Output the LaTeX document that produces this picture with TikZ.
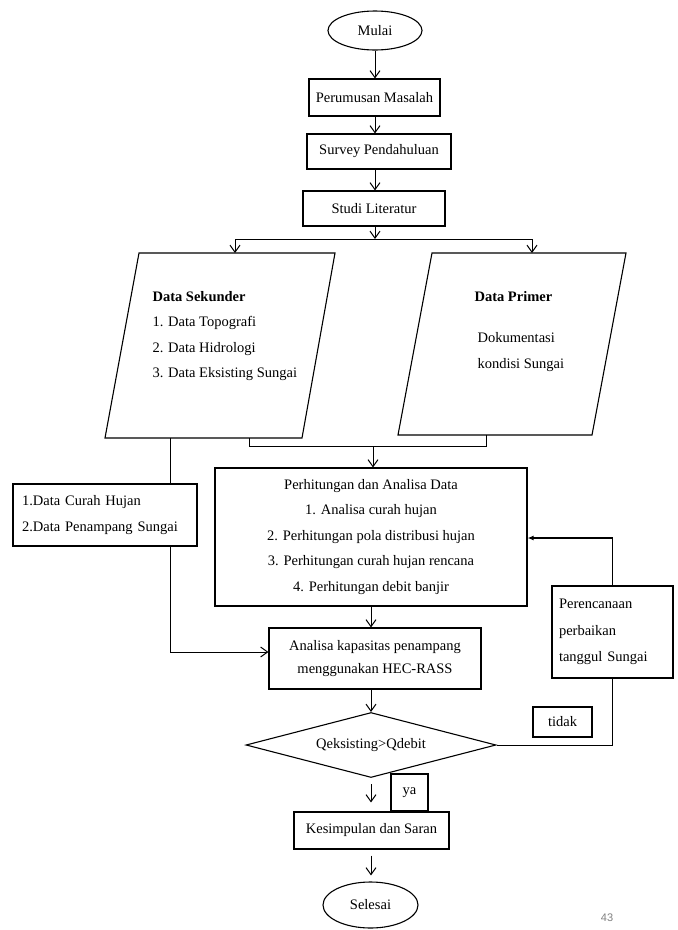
\documentclass[tikz,border=0pt]{standalone}
\usepackage{fontspec}
\setmainfont{Liberation Serif}
\setsansfont{Liberation Sans}
\usetikzlibrary{arrows.meta, positioning, calc, shapes.geometric}
\tikzset{
  box/.style 2 args={rectangle,draw=black,line width=1.1pt,minimum width=#1,
    minimum height=#2,inner sep=0pt,align=center},
  term/.style 2 args={ellipse,draw=black,line width=1.1pt,minimum width=#1,
    minimum height=#2,inner sep=0pt},
  datain/.style={draw=black,line width=1.1pt,line join=miter},
  decide/.style={diamond,aspect=3.85,draw=black,line width=1.1pt,minimum width=250pt,
    minimum height=65pt,inner sep=0pt},
  tag/.style={rectangle,draw=black,line width=1.1pt,inner sep=0pt,minimum height=30pt},
  line/.style={line width=1pt},
  arrow/.style={-{Straight Barb[length=7pt,width=10pt]},line width=1pt},
  back/.style={-{Latex[length=6pt,width=5pt]},line width=1.4pt},
}
\begin{document}
\begin{tikzpicture}[x=1pt,y=-1pt,font=\fontsize{14.5}{25.5}\selectfont]
  \useasboundingbox (0,0) rectangle (678,930);
  % opening steps
  \node[term={94pt}{39pt}] (mulai) at (375,30.5) {Mulai};
  \node[box={131pt}{37pt}] (rumus) at (374.5,97.5) {Perumusan Masalah};
  \node[box={144pt}{35pt}] (survey) at (379,151.5) {Survey Pendahuluan};
  \node[box={142pt}{35pt}] (studi) at (374,208.5) {Studi Literatur};
  \coordinate (split) at (375,239);
  \coordinate (sl) at (235,239);
  \coordinate (sr) at (532,239);
  % data (parallelograms)
  \coordinate (sek-n) at (237,253);
  \coordinate (sek-s) at (203.5,438);
  \coordinate (pri-n) at (529,253);
  \coordinate (pri-s) at (495,435);
  \draw[datain] (105,438) -- (302,438) -- (335,253) -- (139,253) -- cycle;
  \draw[datain] (398,435) -- (592,435) -- (626,253) -- (432,253) -- cycle;
  \node[anchor=west,align=left] (sektxt) at (149,336)
    {\textbf{Data Sekunder}\\1. Data Topografi\\2. Data Hidrologi\\3. Data Eksisting Sungai};
  \node[anchor=west] (prititle) at (471,297) {\textbf{Data Primer}};
  \node[anchor=west,align=left] (pritxt) at (474,352) {Dokumentasi\\kondisi Sungai};
  \node[box={184pt}{62pt},text width=166pt,align=left] (curah) at (105,515)
    {1.Data Curah Hujan\\2.Data Penampang Sungai};
  % analysis
  \node[box={312pt}{138pt}] (hitung) at (371,537)
    {Perhitungan dan Analisa Data\\1. Analisa curah hujan\\2. Perhitungan pola distribusi hujan\\
     3. Perhitungan curah hujan rencana\\4. Perhitungan debit banjir};
  \node[box={212pt}{61pt},font=\fontsize{14.5}{23}\selectfont] (analisa) at (375,658.5)
    {Analisa kapasitas penampang\\menggunakan HEC-RASS};
  \node[box={121pt}{92pt},text width=107pt,align=left,font=\fontsize{14.5}{26.5}\selectfont] (per)
    at (612.5,632) {Perencanaan\\perbaikan\\tanggul Sungai};
  \node[decide] (dec) at (371,745) {Qeksisting>Qdebit};
  \node[tag,minimum width=59pt] (tidak) at (562.5,722) {tidak};
  \node[tag,minimum width=37pt,minimum height=37pt] (ya) at (409.5,792.5) {ya};
  \node[box={155pt}{37pt}] (kes) at (371.5,830.5) {Kesimpulan dan Saran};
  \node[term={95pt}{46pt}] (sel) at (370.5,905) {Selesai};
  \node[font=\sffamily\fontsize{11}{11}\selectfont,text=gray] (hal) at (607,918) {43};
  % connectors
  \draw[arrow] (mulai.south) -- (mulai.south |- rumus.north);
  \draw[arrow] (mulai.south |- rumus.south) -- (mulai.south |- survey.north);
  \draw[arrow] (mulai.south |- survey.south) -- (mulai.south |- studi.north);
  \draw[arrow] (mulai.south |- studi.south) -- (split);
  \draw[line] (sl) -- (sr);
  \draw[arrow] (sl) -- (sl |- sek-n);
  \draw[arrow] (sr) -- (sr |- pri-n);
  \coordinate (m1) at (249,446);
  \coordinate (m2) at (486,446);
  \coordinate (mm) at (373,446);
  \draw[line] (m1 |- sek-s) -- (m1) -- (m2) -- (m2 |- pri-s);
  \draw[arrow] (mm) -- (mm |- hitung.north);
  \coordinate (lft) at (170,652);
  \draw[line] (lft |- sek-s) -- (lft |- curah.north);
  \draw[arrow] (lft |- curah.south) -- (lft) -- (lft -| analisa.west);
  \draw[arrow] (hitung.south) -- (hitung.south |- analisa.north);
  \draw[arrow] (dec.north |- analisa.south) -- (dec.north);
  \draw[arrow,shorten <=6pt,shorten >=9pt] (dec.south) -- (dec.south |- kes.north);
  \draw[arrow,shorten <=6pt,shorten >=6pt] (dec.south |- kes.south) -- (dec.south |- sel.north);
  \draw[line] (dec.east) -- (dec.east -| per.south) -- (per.south);
  \coordinate (fb) at (612,538);
  \draw[back] (per.north) -- (per.north |- fb) -- (fb -| hitung.east);
\end{tikzpicture}
\end{document}
